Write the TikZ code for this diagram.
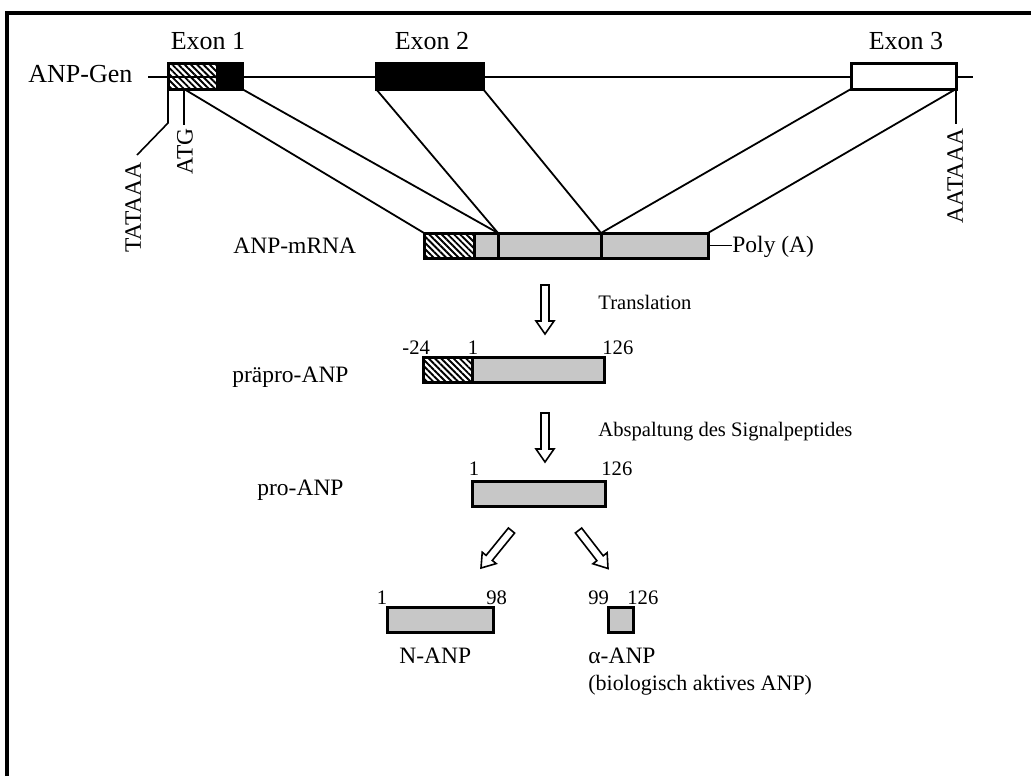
\documentclass[tikz,border=0pt]{standalone}
\usepackage{fontspec}
\setmainfont{Liberation Serif}
\usetikzlibrary{patterns.meta,calc}

% hollow block arrow from tail #1 to tip #2, head base stored as #3
\newcommand{\blockarrow}[3]{%
  \coordinate (#3) at ($(#2)!6.5pt!(#1)$);
  \draw[hollow] ($(#1)!2pt!90:(#2)$) -- ($(#3)!2pt!90:(#2)$) -- ($(#3)!4.5pt!90:(#2)$)
    -- (#2) -- ($(#3)!4.5pt!-90:(#2)$) -- ($(#3)!2pt!-90:(#2)$) -- ($(#1)!2pt!-90:(#2)$) -- cycle;}

\tikzset{
  seg/.style={draw, line width=1.5pt, inner sep=0pt, outer sep=0pt},
  exon/.style={seg, minimum height=13pt},
  bar/.style={seg, minimum height=12.5pt},
  hatch/.style={fill=white, pattern={Lines[angle=-45, distance=2.2pt, line width=0.95pt]}},
  dots/.style={fill=black!22},
  solid black/.style={fill=black},
  link/.style={line width=0.9pt},
  tick/.style={line width=0.8pt},
  hollow/.style={draw, fill=white, line width=0.8pt, line join=miter},
  big/.style={font=\fontsize{13}{15}\selectfont, inner sep=0pt},
  mid/.style={font=\fontsize{11.75}{14}\selectfont, inner sep=0pt},
  small/.style={font=\fontsize{10.3}{12}\selectfont, inner sep=0pt},
}

\begin{document}
\begin{tikzpicture}[x=0.5pt, y=-0.5pt]
\useasboundingbox (0,0) rectangle (1031,776);

% page frame (top and left edge)
\draw[line width=1.7pt] (7,776) -- (7,13) -- (1031,13);

% ---------------- gene ----------------
\coordinate (g0) at (148,77);
\coordinate (g1) at (973,77);
\draw[line width=1.2pt] (g0) -- (g1);
\node[big, anchor=base west] (gen) at (28,82) {ANP-Gen};

\node[exon, hatch, minimum width=24.5pt] (e1a) at (192.5,76) {};
\node[exon, solid black, minimum width=12.5pt] (e1b) at (229.5,76) {};
\node[exon, solid black, minimum width=53.5pt] (e2) at (429.5,76) {};
\node[exon, fill=white, minimum width=52.5pt] (e3) at (903.5,76) {};

\node[big, anchor=base] (x1) at (208,49) {Exon 1};
\node[big, anchor=base] (x2) at (432,49) {Exon 2};
\node[big, anchor=base] (x3) at (906,49) {Exon 3};

% promoter, start codon and polyadenylation signal
\coordinate (atg) at (184,89);
\coordinate (tk1) at (168,123);
\coordinate (tk2) at (137,155);
\coordinate (atgend) at (184,125);
\coordinate (aatend) at (956,124);
\draw[tick] (e1a.south west) -- (tk1) -- (tk2);
\draw[tick] (atg) -- (atgend);
\draw[tick] (e3.south east) -- (aatend);
\node[mid, rotate=90, anchor=east] (tata) at (133,162) {TATAAA};
\node[mid, rotate=90, anchor=east] (atgt) at (185,128) {ATG};
\node[mid, rotate=90, anchor=east] (aat) at (955,128) {AATAAA};

% ---------------- mRNA ----------------
\node[bar, hatch, minimum width=25pt] (m1) at (449,245.5) {};
\node[bar, dots, minimum width=12pt] (m2) at (486,245.5) {};
\node[bar, dots, minimum width=51.5pt] (m3) at (549.5,245.5) {};
\node[bar, dots, minimum width=53.5pt] (m4) at (654.5,245.5) {};
\node[mid, anchor=base west] (mrna) at (233,253) {ANP-mRNA};
\node[mid, anchor=base west] (polya) at (732,252) {Poly (A)};
\draw[tick] (m4.east) -- (polya.west |- m4.east);

% splicing lines
\draw[link] (atg) -- (m1.north west);
\draw[link] (e1b.south east) -- (m3.north west);
\draw[link] (e2.south west) -- (m3.north west);
\draw[link] (e2.south east) -- (m4.north west);
\draw[link] (e3.south west) -- (m4.north west);
\draw[link] (e3.south east) -- (m4.north east);

% ---------------- translation ----------------
\coordinate (t0) at (545,285);
\coordinate (t1) at (545,334);
\blockarrow{t0}{t1}{th}
\node[small, anchor=base west] (trans) at (598,309) {Translation};

% prepro-ANP
\node[bar, hatch, minimum width=24.5pt] (p1) at (447.5,369.5) {};
\node[bar, dots, minimum width=66pt] (p2) at (538,369.5) {};
\node[mid, anchor=base west] (pplab) at (232,382) {präpro-ANP};
\node[small, anchor=base west] (pn24) at (402,354) {-24};
\node[small, anchor=base] (pn1) at (473,354) {1};
\node[small, anchor=base west] (pn126) at (602,354) {126};

% ---------------- signal peptide cleavage ----------------
\coordinate (s0) at (545,413);
\coordinate (s1) at (545,462);
\blockarrow{s0}{s1}{sh}
\node[small, anchor=base west] (absp) at (598,436) {Abspaltung des Signalpeptides};

% pro-ANP
\node[bar, dots, minimum width=66.5pt] (pro) at (538.5,493.5) {};
\node[mid, anchor=base west] (prolab) at (257,495) {pro-ANP};
\node[small, anchor=base] (r1) at (474,475) {1};
\node[small, anchor=base west] (r126) at (601,475) {126};

% ---------------- processing ----------------
\coordinate (la0) at (511.5,530.5);
\coordinate (la1) at (481,568);
\coordinate (ra0) at (578.5,530.5);
\coordinate (ra1) at (608,568.5);
\blockarrow{la0}{la1}{lah}
\blockarrow{ra0}{ra1}{rah}

% N-ANP and alpha-ANP
\node[bar, dots, minimum width=53pt] (nanp) at (440,619.5) {};
\node[bar, dots, minimum width=12.5pt] (aanp) at (620.5,619.5) {};
\node[small, anchor=base] (n1) at (382,604) {1};
\node[small, anchor=base west] (n98) at (486,604) {98};
\node[small, anchor=base west] (a99) at (588,604) {99};
\node[small, anchor=base west] (a126) at (627,604) {126};
\node[mid, anchor=base west] (nlab) at (399,663) {N-ANP};
\node[mid, anchor=base west] (alab) at (588,663) {α-ANP};
\node[small, anchor=base west, font=\fontsize{11}{13}\selectfont] (bio) at (588,690) {(biologisch aktives ANP)};
\end{tikzpicture}
\end{document}
